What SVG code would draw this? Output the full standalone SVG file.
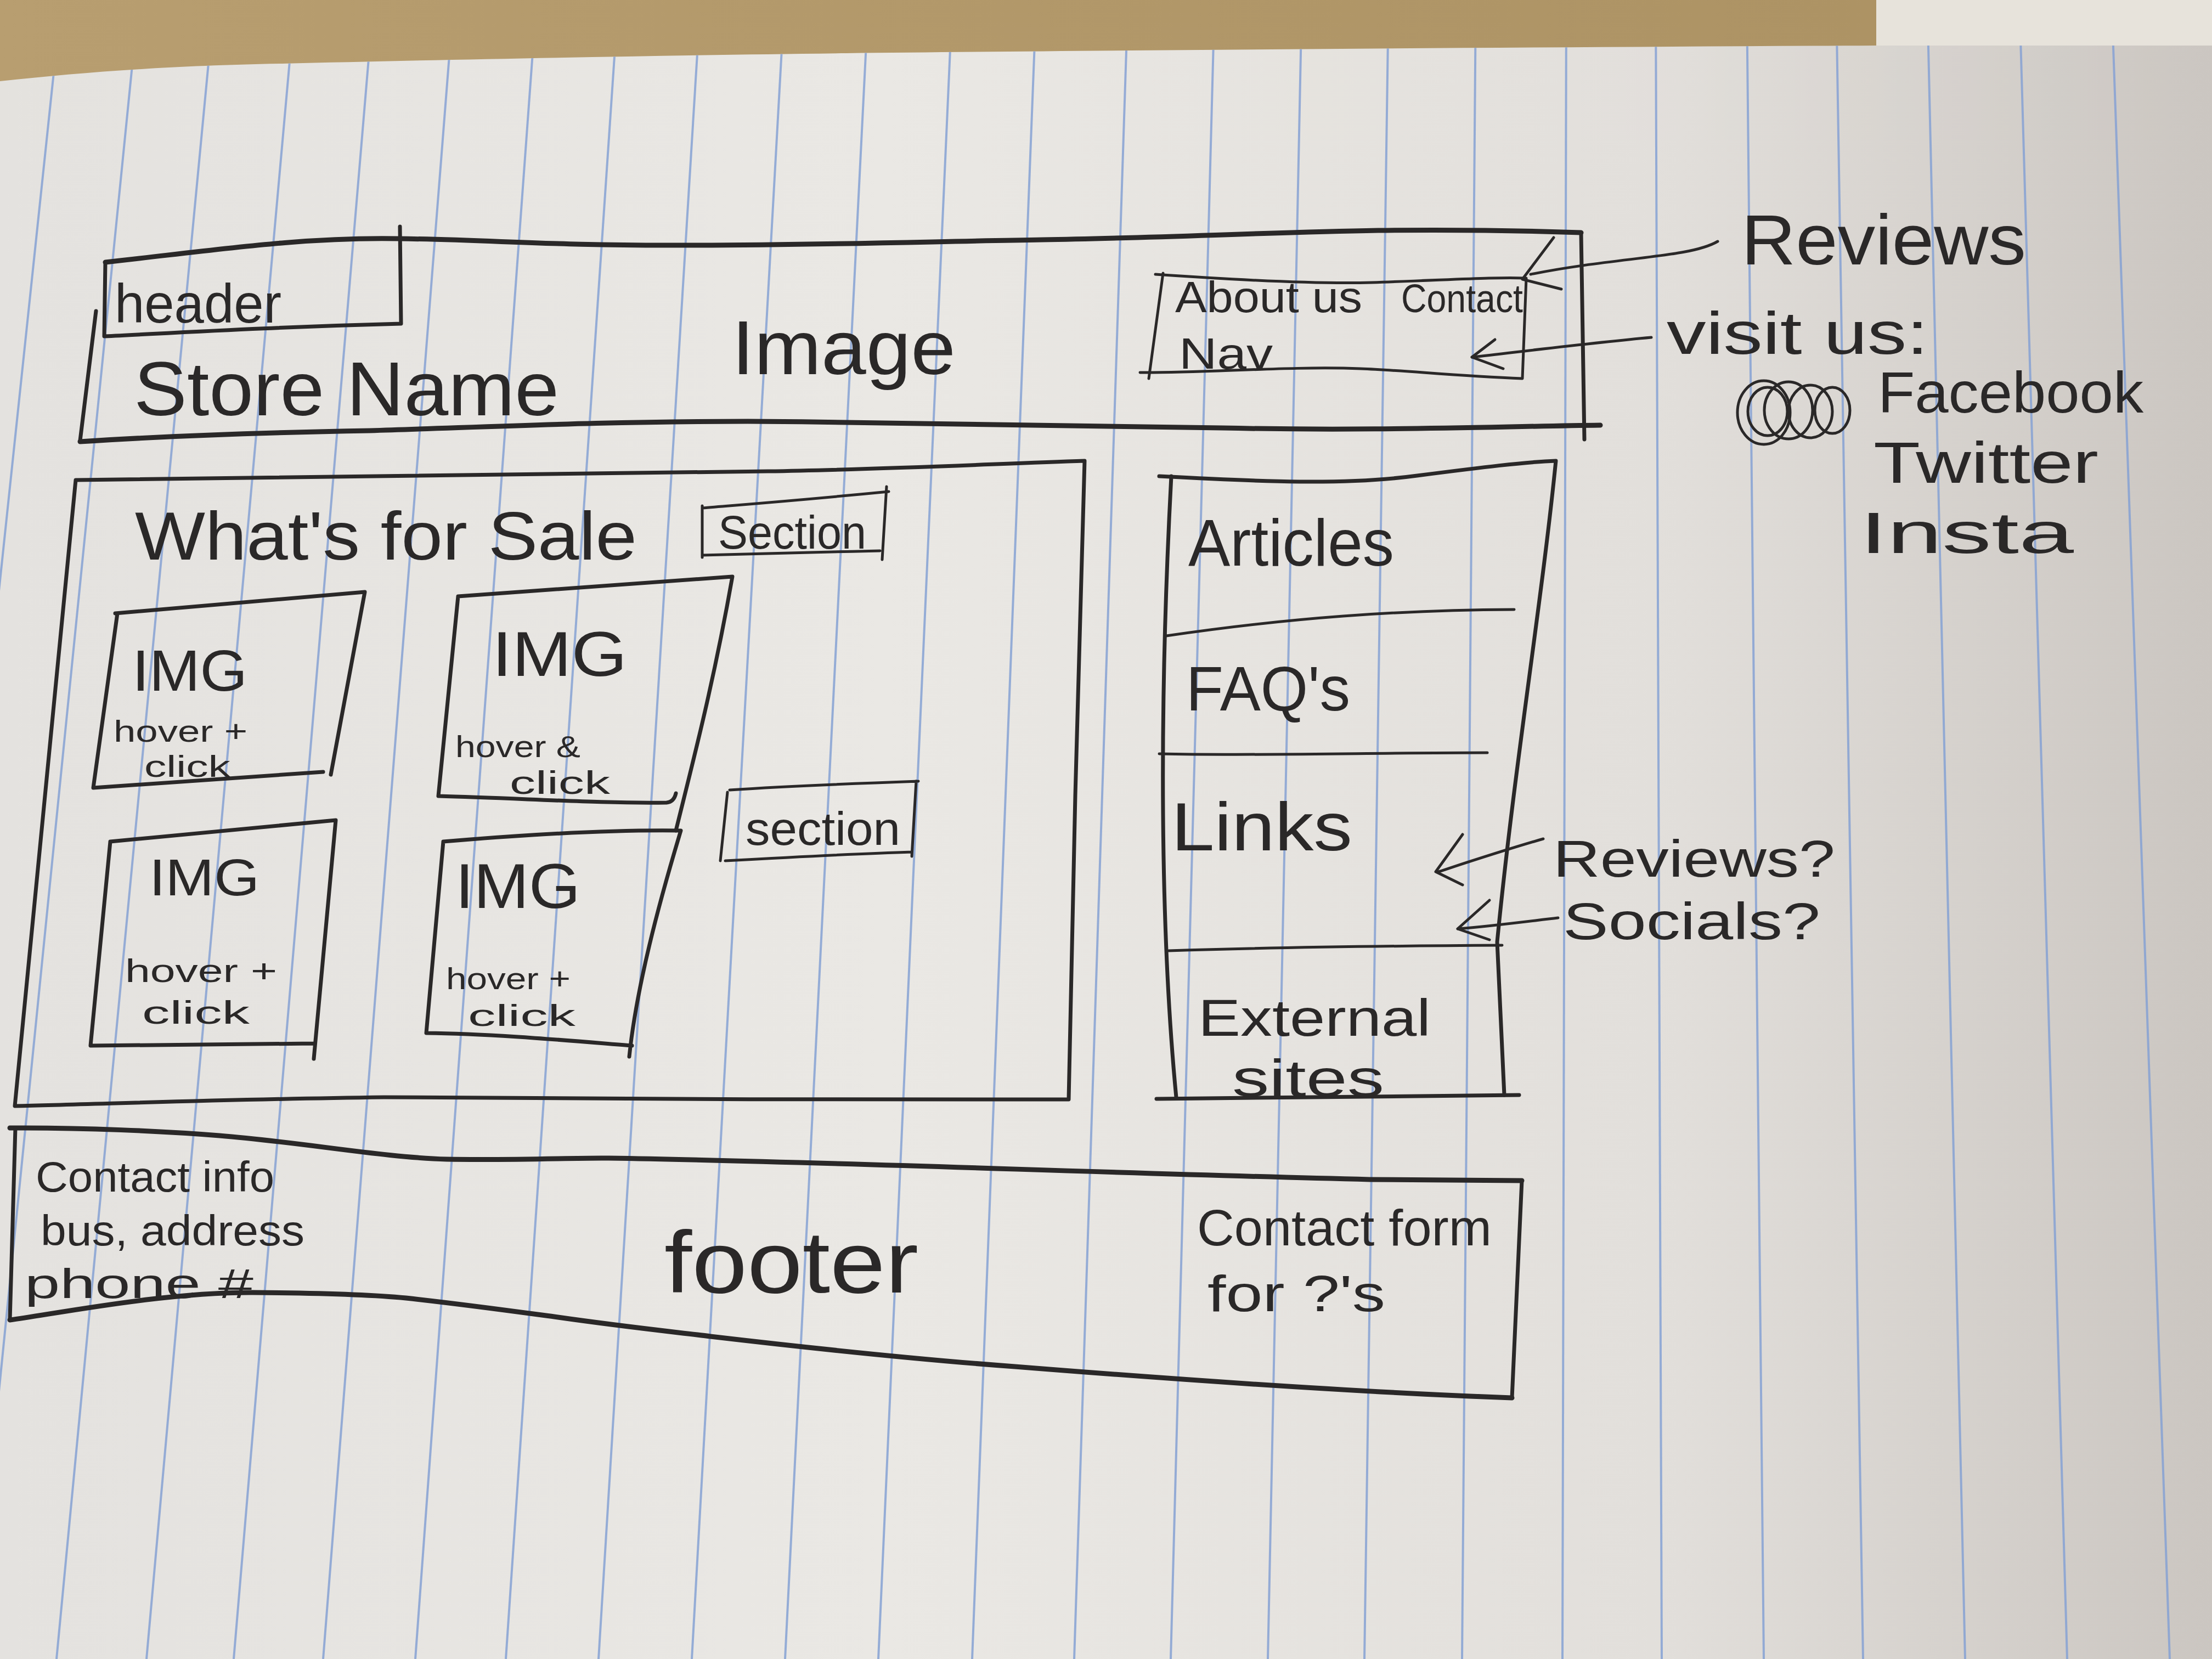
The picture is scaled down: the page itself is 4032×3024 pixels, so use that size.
<svg xmlns="http://www.w3.org/2000/svg" width="4032" height="3024" viewBox="0 0 4032 3024">
  <defs>
    <linearGradient id="paperShade" x1="0" y1="0" x2="1" y2="0">
      <stop offset="0" stop-color="#e4e2df"/>
      <stop offset="0.4" stop-color="#eae8e4"/>
      <stop offset="0.75" stop-color="#e2dfdb"/>
      <stop offset="1" stop-color="#cbc6c1"/>
    </linearGradient>
    <linearGradient id="tan" x1="0" y1="0" x2="1" y2="0">
      <stop offset="0" stop-color="#b89e70"/>
      <stop offset="1" stop-color="#ab9162"/>
    </linearGradient>
    <clipPath id="paperClip">
      <path d="M0,148 C150,132 300,120 514,116 C800,109 1200,101 1543,97 C2000,92 2800,86 3420,83 L4032,83 L4032,3024 L0,3024 Z"/>
    </clipPath>
    <style>
      .ink { fill: none; stroke: #2a2828; stroke-width: 7; stroke-linecap: round; stroke-linejoin: round; }
      .thick { stroke-width: 9; }
      .thin { stroke-width: 5; }
      .rule { stroke: #86a2d4; stroke-width: 4; opacity: 0.85; }
      .hand { font-family: "Liberation Sans", "DejaVu Sans", sans-serif; fill: #2a2828; }
    </style>
  </defs>

  <!-- desk and second sheet behind the notebook page -->
  <rect x="0" y="0" width="4032" height="3024" fill="url(#tan)"/>
  <rect x="3420" y="0" width="612" height="90" fill="#e7e3db"/>

  <!-- notebook page -->
  <path d="M0,148 C150,132 300,120 514,116 C800,109 1200,101 1543,97 C2000,92 2800,86 3420,83 L4032,83 L4032,3024 L0,3024 Z" fill="url(#paperShade)"/>

  <!-- ruled lines -->
  <g id="rules" clip-path="url(#paperClip)" class="rule">
    <line x1="112" y1="0" x2="-208" y2="3024"/>
    <line x1="253" y1="0" x2="-51" y2="3024"/>
    <line x1="391" y1="0" x2="103" y2="3024"/>
    <line x1="538" y1="0" x2="267" y2="3024"/>
    <line x1="681" y1="0" x2="426" y2="3024"/>
    <line x1="827" y1="0" x2="589" y2="3024"/>
    <line x1="978" y1="0" x2="757" y2="3024"/>
    <line x1="1127" y1="0" x2="922" y2="3024"/>
    <line x1="1277" y1="0" x2="1091" y2="3024"/>
    <line x1="1430" y1="0" x2="1261" y2="3024"/>
    <line x1="1583" y1="0" x2="1431" y2="3024"/>
    <line x1="1736" y1="0" x2="1601" y2="3024"/>
    <line x1="1889" y1="0" x2="1772" y2="3024"/>
    <line x1="2056" y1="0" x2="1958" y2="3024"/>
    <line x1="2214" y1="0" x2="2134" y2="3024"/>
    <line x1="2373" y1="0" x2="2311" y2="3024"/>
    <line x1="2531" y1="0" x2="2487" y2="3024"/>
    <line x1="2690" y1="0" x2="2665" y2="3024"/>
    <line x1="2855" y1="0" x2="2848" y2="3024"/>
    <line x1="3018" y1="0" x2="3029" y2="3024"/>
    <line x1="3184" y1="0" x2="3215" y2="3024"/>
    <line x1="3347" y1="0" x2="3396" y2="3024"/>
    <line x1="3513" y1="0" x2="3582" y2="3024"/>
    <line x1="3681" y1="0" x2="3768" y2="3024"/>
    <line x1="3849" y1="0" x2="3955" y2="3024"/>
  </g>

  <!-- header band -->
  <g id="header">
    <path class="ink thick" d="M192,478 C400,455 550,432 726,435 C900,437 1000,448 1248,447 C1500,447 1700,440 1900,437 C2100,434 2300,424 2512,420 C2700,418 2800,421 2882,424"/>
    <path class="ink" d="M2882,424 L2888,801"/>
    <path class="ink thick" d="M146,805 C300,795 500,788 674,785 C900,778 1100,768 1363,768 C1600,770 1800,772 2227,780 C2500,786 2700,778 2917,775"/>
    <path class="ink" d="M175,567 L146,803"/>
    <text class="hand" x="244" y="757" font-size="140" textLength="775" lengthAdjust="spacingAndGlyphs">Store Name</text>
    <text class="hand" x="1334" y="682" font-size="140" textLength="408" lengthAdjust="spacingAndGlyphs">Image</text>
  </g>

  <g id="header-label">
    <path class="ink" d="M192,478 L190,613 C350,605 500,596 731,590 L729,413"/>
    <text class="hand" x="209" y="588" font-size="100" textLength="304" lengthAdjust="spacingAndGlyphs">header</text>
  </g>

  <g id="nav">
    <path class="ink thin" d="M2106,500 C2250,510 2400,518 2500,515 C2650,510 2720,505 2782,507 L2775,690 C2650,685 2560,675 2480,672 C2350,667 2200,680 2078,679"/>
    <path class="ink thin" d="M2120,498 L2094,690"/>
    <text class="hand" x="2142" y="569" font-size="80" textLength="341" lengthAdjust="spacingAndGlyphs">About us</text>
    <text class="hand" x="2554" y="569" font-size="72" textLength="222" lengthAdjust="spacingAndGlyphs">Contact</text>
    <text class="hand" x="2149" y="672" font-size="80" textLength="171" lengthAdjust="spacingAndGlyphs">Nav</text>
  </g>

  <!-- margin notes -->
  <g id="note-reviews">
    <text class="hand" x="3174" y="482" font-size="130" textLength="519" lengthAdjust="spacingAndGlyphs">Reviews</text>
  </g>
  <g id="note-visit">
    <text class="hand" x="3038" y="645" font-size="110" textLength="477" lengthAdjust="spacingAndGlyphs">visit us:</text>
  </g>
  <g id="note-socials">
    <g class="ink thin">
      <ellipse cx="3215" cy="752" rx="48" ry="58"/>
      <ellipse cx="3222" cy="750" rx="36" ry="44"/>
      <ellipse cx="3260" cy="748" rx="44" ry="52"/>
      <ellipse cx="3300" cy="750" rx="40" ry="48"/>
      <ellipse cx="3340" cy="748" rx="32" ry="42"/>
    </g>
    <text class="hand" x="3423" y="752" font-size="105" textLength="484" lengthAdjust="spacingAndGlyphs">Facebook</text>
    <text class="hand" x="3415" y="880" font-size="105" textLength="410" lengthAdjust="spacingAndGlyphs">Twitter</text>
    <text class="hand" x="3390" y="1008" font-size="105" textLength="390" lengthAdjust="spacingAndGlyphs">Insta</text>
  </g>

  <!-- products area -->
  <g id="sale">
    <path class="ink" d="M138,875 C400,871 900,865 1400,859 C1600,856 1800,846 1977,840 L1960,1450 L1948,2004 C1600,2006 1000,2002 700,2000 C400,2004 200,2012 27,2016 Z"/>
    <text class="hand" x="246" y="1020" font-size="125" textLength="915" lengthAdjust="spacingAndGlyphs">What's for Sale</text>
  </g>

  <g id="section-top">
    <path class="ink thin" d="M1280,926 C1350,920 1446,913 1620,896 M1616,887 L1608,1020 M1280,922 L1280,1016 M1280,1012 C1400,1010 1500,1006 1604,1004"/>
    <text class="hand" x="1309" y="1000" font-size="85" textLength="270" lengthAdjust="spacingAndGlyphs">Section</text>
  </g>

  <g id="section-mid">
    <path class="ink thin" d="M1330,1440 C1450,1432 1560,1428 1674,1424 M1670,1424 L1662,1561 M1326,1444 L1313,1569 M1322,1569 C1450,1562 1560,1556 1662,1553"/>
    <text class="hand" x="1359" y="1540" font-size="85" textLength="282" lengthAdjust="spacingAndGlyphs">section</text>
  </g>

  <g id="img-1">
    <path class="ink" d="M210,1118 L665,1079 L603,1412 M589,1407 L170,1436 L214,1118"/>
    <text class="hand" x="241" y="1259" font-size="105" textLength="210" lengthAdjust="spacingAndGlyphs">IMG</text>
    <text class="hand" x="207" y="1352" font-size="55" textLength="244" lengthAdjust="spacingAndGlyphs">hover +</text>
    <text class="hand" x="263" y="1416" font-size="55" textLength="157" lengthAdjust="spacingAndGlyphs">click</text>
  </g>

  <g id="img-2">
    <path class="ink" d="M835,1087 L1335,1051 C1300,1250 1260,1400 1232,1514 M835,1087 L799,1451 C950,1455 1100,1465 1215,1463 C1225,1462 1230,1455 1232,1446"/>
    <text class="hand" x="897" y="1232" font-size="115" textLength="246" lengthAdjust="spacingAndGlyphs">IMG</text>
    <text class="hand" x="830" y="1380" font-size="55" textLength="228" lengthAdjust="spacingAndGlyphs">hover &amp;</text>
    <text class="hand" x="929" y="1447" font-size="60" textLength="183" lengthAdjust="spacingAndGlyphs">click</text>
  </g>

  <g id="img-3">
    <path class="ink" d="M201,1534 L612,1495 L572,1930 M572,1902 L165,1906 L201,1534"/>
    <text class="hand" x="272" y="1632" font-size="95" textLength="201" lengthAdjust="spacingAndGlyphs">IMG</text>
    <text class="hand" x="228" y="1790" font-size="60" textLength="277" lengthAdjust="spacingAndGlyphs">hover +</text>
    <text class="hand" x="259" y="1866" font-size="60" textLength="196" lengthAdjust="spacingAndGlyphs">click</text>
  </g>

  <g id="img-4">
    <path class="ink" d="M808,1534 C950,1522 1100,1512 1241,1514 C1200,1650 1160,1800 1147,1926 M1152,1906 C1050,1898 900,1884 777,1883 L808,1534"/>
    <text class="hand" x="830" y="1655" font-size="115" textLength="228" lengthAdjust="spacingAndGlyphs">IMG</text>
    <text class="hand" x="813" y="1803" font-size="55" textLength="227" lengthAdjust="spacingAndGlyphs">hover +</text>
    <text class="hand" x="853" y="1870" font-size="55" textLength="196" lengthAdjust="spacingAndGlyphs">click</text>
  </g>

  <!-- sidebar -->
  <g id="sidebar">
    <path class="ink" d="M2113,868 C2300,878 2450,885 2583,867 C2700,852 2780,842 2836,840 C2810,1100 2760,1400 2729,1717 L2742,1996"/>
    <path class="ink" d="M2135,868 C2112,1300 2115,1700 2144,2000"/>
    <path class="ink" d="M2108,2003 L2769,1996"/>
    <path class="ink thin" d="M2126,1159 C2350,1126 2550,1112 2760,1111"/>
    <path class="ink thin" d="M2113,1374 C2300,1378 2500,1372 2711,1372"/>
    <path class="ink thin" d="M2130,1733 C2350,1726 2550,1724 2738,1723"/>
    <text class="hand" x="2166" y="1031" font-size="120" textLength="375" lengthAdjust="spacingAndGlyphs">Articles</text>
    <text class="hand" x="2162" y="1295" font-size="115" textLength="299" lengthAdjust="spacingAndGlyphs">FAQ's</text>
    <text class="hand" x="2135" y="1550" font-size="125" textLength="330" lengthAdjust="spacingAndGlyphs">Links</text>
    <text class="hand" x="2184" y="1888" font-size="95" textLength="424" lengthAdjust="spacingAndGlyphs">External</text>
    <text class="hand" x="2246" y="1998" font-size="95" textLength="277" lengthAdjust="spacingAndGlyphs">sites</text>
  </g>

  <g id="note-links">
    <text class="hand" x="2831" y="1598" font-size="95" textLength="514" lengthAdjust="spacingAndGlyphs">Reviews?</text>
    <text class="hand" x="2849" y="1712" font-size="95" textLength="469" lengthAdjust="spacingAndGlyphs">Socials?</text>
  </g>

  <!-- footer -->
  <g id="footer">
    <path class="ink thick" d="M18,2056 C150,2055 300,2062 400,2070 C550,2082 700,2110 814,2113 C950,2115 1050,2110 1110,2111 C1500,2117 2000,2138 2497,2150 L2774,2152"/>
    <path class="ink" d="M2774,2152 L2756,2548"/>
    <path class="ink thick" d="M18,2406 C100,2395 300,2355 462,2356 C600,2357 680,2360 740,2366 C850,2378 950,2392 1017,2401 C1150,2420 1250,2430 1295,2436 C1500,2460 1700,2480 1850,2491 C2000,2503 2400,2535 2756,2548"/>
    <path class="ink" d="M28,2056 L18,2406"/>
    <text class="hand" x="65" y="2172" font-size="78" textLength="435" lengthAdjust="spacingAndGlyphs">Contact info</text>
    <text class="hand" x="74" y="2270" font-size="78" textLength="481" lengthAdjust="spacingAndGlyphs">bus, address</text>
    <text class="hand" x="45" y="2366" font-size="76" textLength="417" lengthAdjust="spacingAndGlyphs">phone #</text>
    <text class="hand" x="1211" y="2356" font-size="160" textLength="463" lengthAdjust="spacingAndGlyphs">footer</text>
    <text class="hand" x="2182" y="2270" font-size="92" textLength="537" lengthAdjust="spacingAndGlyphs">Contact form</text>
    <text class="hand" x="2201" y="2390" font-size="92" textLength="324" lengthAdjust="spacingAndGlyphs">for ?'s</text>
  </g>

  <!-- arrows from the margin notes -->
  <g id="connectors" class="ink thin">
    <path d="M3131,440 C3080,470 2950,468 2790,500"/>
    <path d="M2832,433 L2775,509 L2846,527"/>
    <path d="M3010,615 C2900,625 2780,640 2683,651"/>
    <path d="M2725,619 L2683,651 L2740,672"/>
    <path d="M2813,1529 C2740,1550 2680,1570 2622,1589"/>
    <path d="M2666,1521 L2617,1589 L2666,1613"/>
    <path d="M2840,1673 C2780,1680 2720,1688 2657,1693"/>
    <path d="M2715,1641 L2657,1693 L2715,1713"/>
  </g>
</svg>
